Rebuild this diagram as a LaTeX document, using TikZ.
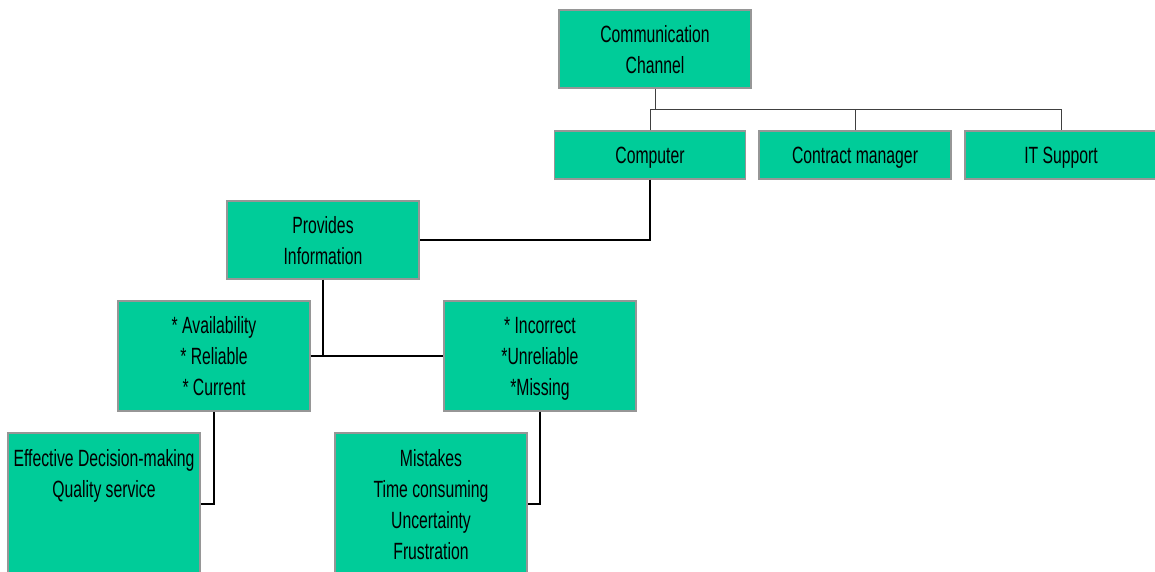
\documentclass[tikz,border=0pt]{standalone}
\usepackage{fontspec}
\setmainfont[FakeStretch=0.67]{Liberation Sans}
\definecolor{boxgreen}{RGB}{0,204,153}
\definecolor{boxedge}{RGB}{150,150,150}
\begin{document}
\begin{tikzpicture}[x=1pt,y=1pt,
  orgbox/.style={draw=boxedge, line width=1.2pt, fill=boxgreen, align=center,
    inner sep=0pt, minimum width=192pt, text depth=0pt,
    font=\fontsize{23.5}{31}\selectfont},
  topline/.style={draw=black!75, line width=1pt},
  lowline/.style={draw=black, line width=1.6pt}]
\useasboundingbox (0,0) rectangle (1155,-571);
% boxes
\node[orgbox, minimum height=78pt] (cc) at (655,-49) {Communication\\Channel};
\node[orgbox, minimum width=191pt, minimum height=48pt] (comp) at (650,-155) {Computer};
\node[orgbox, minimum height=48pt] (cm) at (855,-155) {Contract manager};
\node[orgbox, minimum height=48pt] (its) at (1061,-155) {IT Support};
\node[orgbox, minimum height=78pt] (pi) at (323,-240) {Provides\\Information};
\node[orgbox, minimum height=110pt] (av) at (214,-356) {* Availability\\* Reliable\\* Current};
\node[orgbox, minimum height=110pt] (inc) at (540,-356) {* Incorrect\\*Unreliable\\*Missing};
\node[orgbox, minimum height=142pt] (eff) at (104,-504) {Effective Decision-making\\Quality service\\\mbox{}\\\mbox{}};
\node[orgbox, minimum height=142pt] (mis) at (431,-504) {Mistakes\\Time consuming\\Uncertainty\\Frustration};
% connectors
\coordinate (bus) at (0,-109);
\draw[topline] (cc.south) -- (cc.south |- bus);
\draw[topline] (comp.north) |- (its.north |- bus) -- (its.north);
\draw[topline] (cm.north) -- (cm.north |- bus);
\draw[lowline] (comp.south) |- (pi.east);
\draw[lowline] (pi.south) -- (pi.south |- av.east);
\draw[lowline] (av.east) -- (inc.west);
\draw[lowline] (av.south) |- (eff.east);
\draw[lowline] (inc.south) |- (mis.east);
\end{tikzpicture}
\end{document}
